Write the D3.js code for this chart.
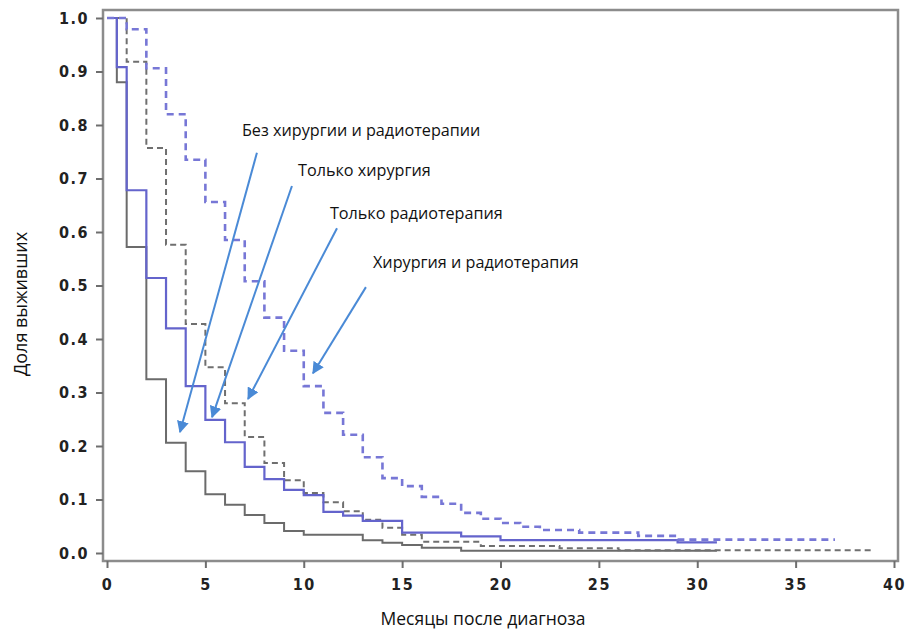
<!DOCTYPE html>
<html>
<head>
<meta charset="utf-8">
<script src="https://cdn.jsdelivr.net/npm/d3@7"></script>
<style>
  html, body { margin: 0; padding: 0; background: #fff; }
  svg { display: block; }
</style>
</head>
<body>
<svg id="chart" width="905" height="632"></svg>
<script>
// ---- Data ----
const xTicks = [0, 5, 10, 15, 20, 25, 30, 35, 40];
const yTicks = [0.0, 0.1, 0.2, 0.3, 0.4, 0.5, 0.6, 0.7, 0.8, 0.9, 1.0];

// Без хирургии и радиотерапии (solid gray)
const noneTimes = [0, 0.5, 1, 2, 3, 4, 5, 6, 7, 8, 9, 10, 13, 14, 15, 16, 18, 31];
const noneSurv  = [1.0, 0.88, 0.572, 0.325, 0.206, 0.153, 0.11, 0.09, 0.071, 0.056, 0.041, 0.034, 0.024, 0.019, 0.015, 0.01, 0.004, 0.004];

// Только хирургия (solid blue)
const surgTimes = [0, 0.5, 1, 2, 3, 4, 5, 6, 7, 8, 9, 10, 11, 12, 13, 15, 18, 20, 29, 31];
const surgSurv  = [1.0, 0.908, 0.678, 0.514, 0.42, 0.312, 0.249, 0.207, 0.161, 0.138, 0.118, 0.108, 0.077, 0.07, 0.06, 0.038, 0.031, 0.024, 0.02, 0.02];

// Только радиотерапия (dashed gray)
const radTimes = [0, 1, 2, 3, 4, 5, 6, 7, 8, 9, 10, 11, 12, 13, 14, 15, 16, 19, 23, 26, 39];
const radSurv  = [1.0, 0.918, 0.757, 0.576, 0.428, 0.347, 0.28, 0.217, 0.168, 0.136, 0.112, 0.095, 0.078, 0.062, 0.047, 0.034, 0.021, 0.013, 0.009, 0.005, 0.005];

// Хирургия и радиотерапия (dashed blue)
const bothTimes = [0, 1, 2, 3, 4, 5, 6, 7, 8, 9, 10, 11, 12, 13, 14, 15, 16, 17, 18, 19, 20, 21, 22, 24, 27, 29, 37];
const bothSurv  = [1.0, 0.979, 0.906, 0.82, 0.735, 0.656, 0.585, 0.508, 0.44, 0.378, 0.312, 0.262, 0.221, 0.179, 0.14, 0.125, 0.105, 0.092, 0.075, 0.064, 0.056, 0.049, 0.043, 0.038, 0.032, 0.025, 0.025];

// Annotation labels and arrows (in data units: months, survival)
const labelTexts = ["Без хирургии и радиотерапии", "Только хирургия", "Только радиотерапия", "Хирургия и радиотерапия"];
const labelX = [6.86, 9.71, 11.33, 13.52];
const labelY = [0.79, 0.716, 0.636, 0.544];
const arrowFromX = [7.62, 9.40, 11.69, 13.16];
const arrowFromY = [0.748, 0.686, 0.607, 0.497];
const arrowToX = [3.71, 5.34, 7.17, 10.47];
const arrowToY = [0.226, 0.254, 0.288, 0.336];

// ---- Chart ----
const svg = d3.select("#chart");
const frame = {left: 103, right: 898, top: 10, bottom: 561};

const x = d3.scaleLinear().domain([0, 40]).range([107, 894]);
const y = d3.scaleLinear().domain([0, 1]).range([553, 18]);

// frame
svg.append("rect")
  .attr("x", frame.left).attr("y", frame.top)
  .attr("width", frame.right - frame.left).attr("height", frame.bottom - frame.top)
  .attr("fill", "none").attr("stroke", "#8c8c8c").attr("stroke-width", 2.5);

const tickFont = "'DejaVu Sans Condensed', 'Liberation Sans Narrow', sans-serif";

const xAxis = svg.append("g")
  .attr("transform", `translate(0,${frame.bottom})`)
  .call(d3.axisBottom(x).tickValues(xTicks).tickFormat(d3.format("d")).tickSize(7).tickPadding(11));
const yAxis = svg.append("g")
  .attr("transform", `translate(${frame.left},0)`)
  .call(d3.axisLeft(y).tickValues(yTicks).tickFormat(d3.format(".1f")).tickSize(7).tickPadding(7));

[xAxis, yAxis].forEach(g => {
  g.select(".domain").remove();
  g.selectAll(".tick line").attr("stroke", "#6e6e6e").attr("stroke-width", 2);
  g.selectAll(".tick text")
    .attr("fill", "#222")
    .style("font-family", tickFont)
    .style("font-weight", "bold")
    .style("font-size", "16px")
    .style("letter-spacing", "1.5px");
});

// curves
const line = d3.line().x(d => x(d[0])).y(d => y(d[1])).curve(d3.curveStepAfter);
const series = [
  {t: noneTimes, s: noneSurv, color: "#6b6b6b", width: 2, dash: null},
  {t: radTimes,  s: radSurv,  color: "#6f6f6f", width: 2, dash: "6,4"},
  {t: surgTimes, s: surgSurv, color: "#6464cc", width: 2.2, dash: null},
  {t: bothTimes, s: bothSurv, color: "#7777d6", width: 2.6, dash: "7,5"}
];
series.forEach(sr => {
  const pts = sr.t.map((t, i) => [t, sr.s[i]]);
  svg.append("path")
    .attr("d", line(pts))
    .attr("fill", "none")
    .attr("stroke", sr.color)
    .attr("stroke-width", sr.width)
    .attr("stroke-dasharray", sr.dash);
});

// arrows
const arrowColor = "#4a8ad6";
svg.append("defs").append("marker")
  .attr("id", "ah").attr("viewBox", "0 0 10 10")
  .attr("refX", 9).attr("refY", 5)
  .attr("markerWidth", 6).attr("markerHeight", 6)
  .attr("markerUnits", "strokeWidth")
  .attr("orient", "auto")
  .append("path").attr("d", "M0,0 L10,5 L0,10 z").attr("fill", arrowColor);

const textFont = "'Open Sans', 'Noto Sans', sans-serif";
labelTexts.forEach((lbl, i) => {
  svg.append("line")
    .attr("x1", x(arrowFromX[i])).attr("y1", y(arrowFromY[i]))
    .attr("x2", x(arrowToX[i])).attr("y2", y(arrowToY[i]))
    .attr("stroke", arrowColor).attr("stroke-width", 2)
    .attr("marker-end", "url(#ah)");
  svg.append("text")
    .attr("x", x(labelX[i])).attr("y", y(labelY[i]))
    .attr("dominant-baseline", "central")
    .style("font-family", textFont)
    .style("font-size", "16.2px")
    .attr("fill", "#111")
    .text(lbl);
});

// axis titles
svg.append("text")
  .attr("x", 483).attr("y", 618)
  .attr("text-anchor", "middle").attr("dominant-baseline", "central")
  .style("font-family", textFont)
  .style("font-size", "17.5px").attr("fill", "#111")
  .text("Месяцы после диагноза");

svg.append("text")
  .attr("transform", "translate(20,304) rotate(-90)")
  .attr("text-anchor", "middle").attr("dominant-baseline", "central")
  .style("font-family", textFont)
  .style("font-size", "18px").attr("fill", "#111")
  .text("Доля выживших");
</script>
</body>
</html>
